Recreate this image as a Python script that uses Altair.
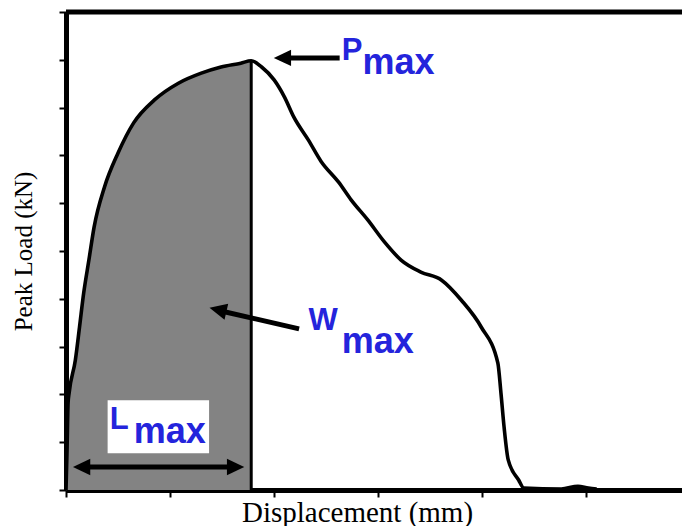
import altair as alt
import pandas as pd

# Load–displacement trace (displacement in axis units, load in axis units)
disp = [0.00, 0.01, 0.02, 0.03, 0.09, 0.13, 0.17, 0.22, 0.27, 0.37, 0.50, 0.65,
        0.85, 1.08, 1.30, 1.49, 1.68, 1.78, 1.88, 2.00, 2.10, 2.19, 2.33, 2.45,
        2.62, 2.74, 2.90, 3.06, 3.22, 3.41, 3.61, 3.80, 3.99, 4.15, 4.18, 4.21,
        4.25, 4.35, 4.40, 4.76, 4.92, 5.02, 5.10]
load = [0.00, 0.84, 1.82, 2.03, 2.72, 3.41, 4.12, 4.81, 5.50, 6.34, 7.05, 7.68,
        8.16, 8.51, 8.72, 8.85, 8.93, 8.98, 8.85, 8.58, 8.22, 7.80, 7.32, 6.88,
        6.44, 6.07, 5.65, 5.19, 4.81, 4.56, 4.39, 3.97, 3.41, 2.66, 2.03, 1.32,
        0.63, 0.21, 0.04, 0.02, 0.08, 0.04, 0.02]

peak_disp = 1.78
peak_load = 8.98

x_max = 5.92
y_max = 10

x_ticks = [0, 1, 2, 3, 4, 5]
y_ticks = [0, 1, 2, 3, 4, 5, 6, 7, 8, 9, 10]

# Annotation labels: letter, subscript, positions in data units
label_main = ["P", "W", "L"]
label_sub = ["max", "max", "max"]
main_x = [2.65, 2.33, 0.42]
main_y = [9.0, 3.35, 1.28]
sub_x = [2.85, 2.65, 0.65]
sub_y = [8.70, 2.87, 0.98]

# Arrow shafts (x1, y1) -> (x2, y2)
shaft_x1 = [2.63, 2.24, 0.13]
shaft_y1 = [9.04, 3.37, 0.48]
shaft_x2 = [2.10, 1.48, 1.65]
shaft_y2 = [9.04, 3.75, 0.48]

# Arrowhead centres and pointing direction (degrees, clockwise from +x)
head_x = [2.08, 1.46, 0.15, 1.63]
head_y = [9.04, 3.77, 0.48, 0.48]
head_angle = [180, 193, 180, 0]

# White label box behind L_max
box_x = [0.40]
box_x2 = [1.375]
box_y = [0.77]
box_y2 = [1.88]

blue = "#2424dc"
gray = "#838383"

curve_df = pd.DataFrame({"d": disp, "p": load})
area_df = curve_df[curve_df["d"] <= peak_disp]

xs = alt.Scale(domain=[0, x_max], nice=False, zero=False)
ys = alt.Scale(domain=[0, y_max], nice=False, zero=False)

x_axis = alt.Axis(values=x_ticks, labels=False, grid=False, domainWidth=5,
                  domainColor="black", tickColor="black", tickSize=7,
                  tickWidth=2, title="Displacement (mm)", titleFont="Liberation Serif",
                  titleFontSize=29, titleFontWeight="normal", titleColor="black",
                  titleX=291, titleY=31, titleBaseline="alphabetic", titleAlign="center")
y_axis = alt.Axis(values=y_ticks, labels=False, grid=False, domainWidth=5,
                  domainColor="black", tickColor="black", tickSize=7,
                  tickWidth=2, title="Peak Load (kN)", titleFont="Liberation Serif",
                  titleFontSize=25, titleFontWeight="normal", titleColor="black",
                  titlePadding=22)


def X(field):
    return alt.X(field, type="quantitative", scale=xs, axis=x_axis)


def Y(field):
    return alt.Y(field, type="quantitative", scale=ys, axis=y_axis)


area = alt.Chart(area_df).mark_area(color=gray, opacity=1, interpolate="monotone").encode(
    x=X("d"), y=Y("p"))

peak_line = alt.Chart(pd.DataFrame({"d": [peak_disp], "p0": [0], "p": [peak_load]})).mark_rule(
    color="black", strokeWidth=3).encode(x=X("d"), y=Y("p0"), y2="p")

curve = alt.Chart(curve_df).mark_line(color="black", strokeWidth=3.6,
                                      interpolate="monotone").encode(x=X("d"), y=Y("p"))

top_border = alt.Chart(pd.DataFrame({"a": [0], "b": [x_max], "t": [y_max]})).mark_rule(
    color="black", strokeWidth=5).encode(x=X("a"), x2="b", y=Y("t"))

box = alt.Chart(pd.DataFrame({"x": box_x, "x2": box_x2, "y": box_y, "y2": box_y2})).mark_rect(
    fill="white").encode(x=X("x"), x2="x2", y=Y("y"), y2="y2")

shafts = alt.Chart(pd.DataFrame({"x1": shaft_x1, "y1": shaft_y1, "x2": shaft_x2,
                                 "y2": shaft_y2})).mark_rule(
    color="black", strokeWidth=5).encode(x=X("x1"), y=Y("y1"), x2="x2", y2="y2")

heads = alt.Chart(pd.DataFrame({"x": head_x, "y": head_y, "a": head_angle})).mark_point(
    shape="M-1,-0.95L1,0L-1,0.95Z", filled=True, color="black", opacity=1, size=300,
    strokeWidth=0).encode(x=X("x"), y=Y("y"), angle=alt.Angle("a:Q", scale=None))

main_text = alt.Chart(pd.DataFrame({"t": label_main, "x": main_x, "y": main_y})).mark_text(
    align="left", baseline="alphabetic", font="Liberation Sans", fontWeight="bold",
    fontSize=31, color=blue).encode(x=X("x"), y=Y("y"), text="t")

sub_text = alt.Chart(pd.DataFrame({"t": label_sub, "x": sub_x, "y": sub_y})).mark_text(
    align="left", baseline="alphabetic", font="Liberation Sans", fontWeight="bold",
    fontSize=36, color=blue).encode(x=X("x"), y=Y("y"), text="t")

chart = alt.layer(area, peak_line, curve, top_border, box, shafts, heads, main_text,
                  sub_text).properties(
    width=616, height=478,
    autosize=alt.AutoSizeParams(type="none"),
    padding={"left": 66, "top": 12, "right": 0, "bottom": 36},
    background="white",
).configure_view(stroke=None)

chart.save("out.html", embed_options={"renderer": "svg", "actions": False})
